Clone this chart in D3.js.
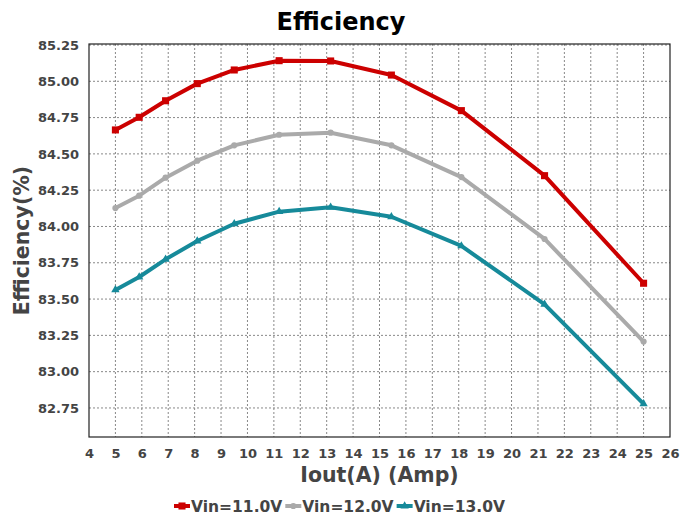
<!DOCTYPE html>
<html><head><meta charset="utf-8">
<script src="https://cdn.jsdelivr.net/npm/d3@7"></script>
<style>body{margin:0;background:#fff}svg{display:block;font-family:"DejaVu Sans",sans-serif}</style>
</head><body><div id="chart"></div>
<script>
const iout = [5, 5.9, 6.9, 8.1, 9.5, 11.2, 13.15, 15.45, 18.1, 21.25, 25];
const vin11 = [84.665, 84.752, 84.866, 84.984, 85.078, 85.142, 85.140, 85.043, 84.798, 84.350, 83.609];
const vin12 = [84.127, 84.212, 84.336, 84.453, 84.559, 84.632, 84.646, 84.559, 84.340, 83.914, 83.207];
const vin13 = [83.563, 83.652, 83.774, 83.900, 84.019, 84.102, 84.132, 84.067, 83.866, 83.464, 82.778];
const seriesNames = ["Vin=11.0V", "Vin=12.0V", "Vin=13.0V"];
const seriesColors = ["#cc0000", "#aaaaaa", "#168a9a"];
const xTicks = d3.range(4, 27, 1);
const yTicks = [82.75, 83.00, 83.25, 83.50, 83.75, 84.00, 84.25, 84.50, 84.75, 85.00, 85.25];

const W = 696, H = 517;
const m = {l: 89, r: 26, t: 44, b: 80};
const svg = d3.select("#chart").append("svg").attr("width", W).attr("height", H);
const x = d3.scaleLinear().domain([4, 26]).range([m.l, W - m.r]);
const y = d3.scaleLinear().domain([82.55, 85.25]).range([H - m.b, m.t + 1]);

// grid
const g = svg.append("g");
g.selectAll(".vg").data(xTicks.filter(d => d > 4 && d < 26)).enter().append("line")
  .attr("x1", d => x(d)).attr("x2", d => x(d)).attr("y1", m.t).attr("y2", H - m.b)
  .attr("stroke", "#888").attr("stroke-width", 1).attr("stroke-dasharray", "2,2");
g.selectAll(".hg").data(yTicks).enter().append("line")
  .attr("x1", m.l).attr("x2", W - m.r).attr("y1", d => y(d)).attr("y2", d => y(d))
  .attr("stroke", "#888").attr("stroke-width", 1).attr("stroke-dasharray", "2,2");

// frame
svg.append("rect").attr("x", m.l).attr("y", m.t).attr("width", W - m.r - m.l).attr("height", H - m.b - m.t)
  .attr("fill", "none").attr("stroke", "#222").attr("stroke-width", 1.2);

// axes
const xa = svg.append("g").attr("transform", `translate(0,${H - m.b})`)
  .call(d3.axisBottom(x).tickValues(xTicks).tickSize(0).tickPadding(12).tickFormat(d3.format("d")));
const ya = svg.append("g").attr("transform", `translate(${m.l},0)`)
  .call(d3.axisLeft(y).tickValues(yTicks).tickSize(0).tickPadding(10).tickFormat(d3.format(".2f")));
[xa, ya].forEach(a => {
  a.select(".domain").remove();
  a.selectAll("text").attr("fill", "#444").style("font-size", "13px").style("font-weight", "bold")
    .style("font-family", '"DejaVu Sans",sans-serif');
});

// lines
const all = [vin11, vin12, vin13];
const line = d3.line().x((d, i) => x(iout[i])).y(d => y(d));
all.forEach((vals, k) => {
  svg.append("path").datum(vals).attr("d", line).attr("fill", "none")
    .attr("stroke", seriesColors[k]).attr("stroke-width", 4).attr("stroke-linejoin", "round");
});
// markers
const sq = d3.symbol().type(d3.symbolSquare).size(50);
const ci = d3.symbol().type(d3.symbolCircle).size(30);
const tr = d3.symbol().type(d3.symbolTriangle).size(30);
const syms = [sq, ci, tr];
all.forEach((vals, k) => {
  svg.append("g").selectAll("path").data(vals).enter().append("path")
    .attr("d", syms[k]).attr("transform", (d, i) => `translate(${x(iout[i])},${y(d)})`)
    .attr("fill", seriesColors[k]);
});

// titles
svg.append("text").attr("x", 341).attr("y", 30).attr("text-anchor", "middle")
  .style("font-size", "24px").style("font-weight", "bold").attr("fill", "#000").text("Efficiency");
svg.append("text").attr("x", (m.l + W - m.r) / 2).attr("y", 482).attr("text-anchor", "middle")
  .style("font-size", "20.5px").style("font-weight", "bold").attr("fill", "#444").text("Iout(A) (Amp)");
svg.append("text").attr("transform", `translate(29,${(m.t + H - m.b) / 2}) rotate(-90)`).attr("text-anchor", "middle")
  .style("font-size", "20.5px").style("font-weight", "bold").attr("fill", "#444").text("Efficiency(%)");

// legend
const legend = svg.append("g").attr("transform", "translate(174,506)");
let lx = 0;
seriesNames.forEach((name, k) => {
  const it = legend.append("g").attr("transform", `translate(${lx},0)`);
  it.append("line").attr("x1", 0).attr("x2", 16).attr("y1", 0).attr("y2", 0)
    .attr("stroke", seriesColors[k]).attr("stroke-width", 4);
  it.append("path").attr("d", syms[k]).attr("transform", "translate(8,0)").attr("fill", seriesColors[k]);
  const t = it.append("text").attr("x", 17).attr("y", 5.5).style("font-size", "15.5px").style("font-weight", "bold")
    .attr("fill", "#444").text(name);
  lx += 17 + t.node().getComputedTextLength() + 3;
});
</script></body></html>
